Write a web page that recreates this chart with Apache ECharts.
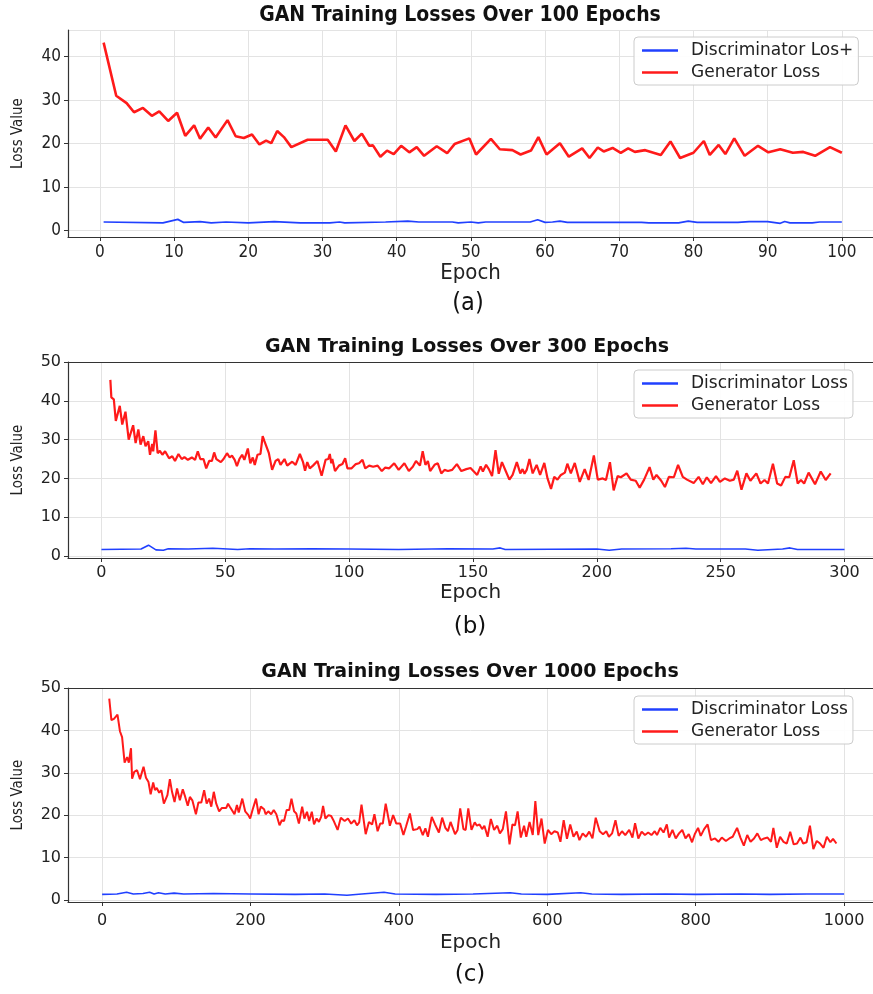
<!DOCTYPE html>
<html>
<head>
<meta charset="utf-8">
<script src="https://cdn.jsdelivr.net/npm/echarts@6/dist/echarts.min.js"></script>
<style>
  html, body { margin: 0; padding: 0; background: #fff; }
  #main { width: 873px; height: 994px; }
</style>
</head>
<body>
<div id="main"></div>
<script>
// ---- panel (a): 100 epochs ----
var genEpochA = [0.5, 2.2, 3.6, 4.6, 5.8, 7.0, 8.0, 9.2, 10.4, 11.5, 12.7, 13.5, 14.6, 15.6, 17.2, 18.3, 19.4, 20.5, 21.5, 22.4,
    23.1, 23.9, 24.8, 25.8, 28.0, 30.7, 31.8, 33.1, 34.3, 35.3, 36.3, 36.8, 37.8, 38.7, 39.6, 40.6, 41.7, 42.7, 43.7, 45.4,
    46.8, 47.8, 49.8, 50.7, 52.7, 53.9, 55.6, 56.7, 58.1, 59.1, 60.2, 62.0, 63.2, 65.0, 66.0, 67.1, 67.9, 69.1, 70.2, 71.2,
    72.1, 73.5, 75.6, 76.9, 78.2, 80.0, 81.4, 82.2, 83.4, 84.3, 85.5, 86.9, 88.7, 90.1, 91.7, 93.4, 94.8, 96.4, 98.4, 100];
var genLossA = [43.2, 31.0, 29.3, 27.2, 28.2, 26.4, 27.4, 25.2, 27.1, 21.8, 24.2, 21.1, 23.7, 21.4, 25.4, 21.7, 21.3, 22.1, 19.8, 20.7,
    20.1, 22.9, 21.5, 19.2, 20.9, 20.9, 18.2, 24.2, 20.6, 22.3, 19.5, 19.6, 17.0, 18.4, 17.6, 19.5, 18.0, 19.2, 17.2, 19.4,
    17.8, 19.9, 21.2, 17.5, 21.1, 18.7, 18.5, 17.5, 18.4, 21.5, 17.5, 20.1, 17.0, 18.9, 16.7, 19.1, 18.2, 19.0, 17.9, 18.9,
    18.1, 18.5, 17.4, 20.5, 16.7, 17.9, 20.6, 17.4, 19.7, 17.6, 21.2, 17.2, 19.5, 18.0, 18.7, 17.9, 18.1, 17.2, 19.2, 17.9];
var discEpochA = [0.5, 8.5, 10.5, 11.3, 13.5, 15, 17, 20, 23.5, 27, 31, 32.3, 33, 38.5, 41.5, 43, 47.5, 48.3, 50, 51,
    52, 58, 59, 60, 61, 62, 63, 73, 74, 78, 79.3, 80.5, 86, 87.5, 90, 91.7, 92.3, 93, 96, 97, 100];
var discLossA = [2.0, 1.8, 2.6, 1.9, 2.1, 1.8, 2.0, 1.8, 2.1, 1.8, 1.8, 2.0, 1.8, 2.0, 2.2, 2.0, 2.0, 1.8, 2.0, 1.8,
    2.0, 2.0, 2.5, 1.9, 2.0, 2.2, 1.9, 1.9, 1.8, 1.8, 2.2, 1.9, 1.9, 2.1, 2.1, 1.7, 2.1, 1.8, 1.8, 2.0, 2.0];

// ---- panel (b): 300 epochs ----
var genEpochB = [3.6, 4, 5, 5.8, 7.4, 8.4, 9.7, 11, 12.8, 13.8, 14.9, 15.8, 16.9, 17.8, 18.9, 19.6, 20.5, 20.9, 21.8, 22.7,
    23.6, 24.6, 25.7, 27.3, 28.6, 29.7, 31.1, 32.4, 33.5, 34.9, 36.5, 37.8, 38.9, 39.9, 41.2, 42.3, 43.5, 44.6, 45.5, 46.4,
    47, 48.2, 49.3, 50.7, 51.8, 52.7, 53.8, 54.7, 55.7, 56.8, 57.7, 59.1, 60.1, 61.1, 61.9, 63, 64.2, 65.1, 65.8, 66.6,
    67.6, 68.9, 70.3, 71.4, 72.3, 73.9, 75, 76.1, 77, 78.4, 80.1, 81.4, 82.2, 83.1, 84.1, 85.4, 87.2, 88.9, 90.5, 91.6,
    92.2, 92.8, 93.2, 94.3, 95.9, 97.3, 98.4, 99.3, 101, 102.7, 104, 105.4, 106.5, 108.1, 109.7, 111.5, 113.2, 114.6, 116.2, 118.2,
    120, 122.3, 124.1, 125.7, 127, 128.6, 129.7, 130.8, 131.8, 132.7, 134.5, 135.8, 137.2, 138.5, 139.9, 141.6, 143.5, 145.3, 147.3,
    149, 151.7, 153.1, 154, 155.3, 156.4, 157.7, 159.1, 160.4, 161.7, 163.3, 164.7, 166, 167.7, 169.1, 170, 170.8, 171.7, 172.8, 174.1,
    175.7, 177.1, 178.8, 180.1, 181.5, 182.8, 184.1, 185.5, 187.1, 188.1, 189.5, 191.1, 193.1, 195.1, 196.7, 198.8, 200.4, 202.4, 203.7, 205.3,
    206.8, 208.4, 209.7, 212, 213.7, 215.7, 217.3, 219.1, 221.3, 222.8, 224.1, 226, 227.5, 229.1, 231.1, 232.8, 234.7, 236.4, 239.1, 241.1,
    242.8, 244.4, 246.1, 248.1, 249.7, 251.7, 253.7, 255.3, 256.7, 258.4, 260.4, 262, 264.4, 266.1, 267.7, 269.1, 271.1, 272.8, 274.4, 276.1,
    277.7, 279.5, 281.1, 282.4, 283.7, 285.5, 288.1, 290.4, 292.4, 294.4];
var genLossB = [45.4, 40.9, 40.4, 34.8, 38.7, 33.9, 37.2, 30.0, 33.7, 29.1, 32.6, 28.7, 30.9, 28.3, 29.6, 26.1, 28.9, 27.0, 32.4, 26.5,
    27.1, 26.1, 27.0, 25.2, 25.7, 24.5, 26.3, 25.0, 25.5, 24.8, 25.4, 24.8, 27.0, 25.0, 25.0, 22.6, 24.5, 24.5, 26.7, 25.0,
    25.4, 24.2, 25.0, 26.5, 25.4, 25.9, 24.8, 23.2, 25.0, 26.1, 24.8, 27.7, 23.9, 25.4, 23.5, 26.1, 26.3, 30.9, 29.6, 29.6,
    26.5, 22.2, 24.5, 25.0, 23.5, 25.0, 23.3, 23.9, 24.3, 23.5, 26.3, 24.2, 22.0, 24.2, 22.6, 23.3, 24.5, 20.7, 24.8, 25.0,
    26.3, 23.9, 25.0, 21.9, 23.3, 23.7, 25.2, 22.6, 22.6, 23.7, 23.9, 24.8, 22.6, 23.3, 23.0, 23.3, 21.9, 22.8, 22.6, 23.9,
    22.2, 23.9, 21.9, 23.0, 24.5, 23.3, 27.0, 23.5, 24.5, 21.9, 23.5, 23.9, 21.3, 22.2, 21.9, 22.2, 23.7, 21.9, 22.4,
    22.7, 20.9, 23.1, 21.8, 23.5, 22.4, 20.6, 27.3, 21.2, 24.2, 21.8, 19.7, 20.9, 24.2, 21.3, 22.4, 21.2, 22.2, 25.0, 21.3,
    23.5, 20.9, 24.0, 20.0, 17.3, 20.4, 19.7, 20.9, 21.5, 23.8, 21.3, 24.0, 19.1, 22.4, 19.6, 25.9, 19.7, 20.0, 19.6, 24.2,
    16.9, 20.6, 20.3, 21.3, 19.7, 19.4, 17.6, 19.7, 22.9, 19.7, 20.9, 19.4, 17.8, 20.4, 20.3, 23.5, 20.4, 19.7, 18.8, 20.4,
    18.5, 20.3, 18.8, 20.6, 19.1, 20.0, 19.4, 19.7, 22.0, 17.1, 21.3, 19.4, 21.3, 18.7, 19.6, 18.7, 23.8, 18.7, 18.2, 20.4,
    20.3, 24.7, 18.7, 19.6, 18.7, 21.5, 18.5, 21.8, 19.6, 21.3];
var discEpochB = [0, 16, 19, 22, 25, 27, 35, 45, 55, 60, 70, 85, 100, 120, 140, 158, 161, 163, 200, 205,
    210, 230, 236, 240, 260, 265, 275, 278, 281, 300];
var discLossB = [1.7, 1.8, 2.8, 1.6, 1.5, 1.9, 1.8, 2.0, 1.7, 1.9, 1.8, 1.9, 1.8, 1.7, 1.9, 1.8, 2.1, 1.7, 1.8, 1.5,
    1.8, 1.9, 2.0, 1.8, 1.8, 1.5, 1.8, 2.1, 1.7, 1.7];

// ---- panel (c): 1000 epochs ----
var genEpochC = [9.6, 12.5, 15.9, 20.7, 24, 26.9, 30.3, 33.7, 36, 38.9, 40.4, 43.3, 47.1, 51, 55.8, 59.1, 62.5, 65.4, 68.8, 71.2,
    73.6, 76.9, 79.8, 83.2, 88, 91.3, 94.2, 97.6, 101, 104.8, 108.7, 112, 115.4, 118.3, 121.6, 126.4, 129.8, 133.7, 137.5, 140.9,
    144.2, 147.1, 150.5, 153.8, 157.7, 161.5, 167.3, 169.7, 172.1, 174.5, 178.4, 181.7, 184.1, 188.9, 192.8, 197.1, 199.5, 203, 207.4, 210.9,
    213.9, 218.3, 220.4, 223.9, 227.8, 231.3, 234.8, 239.1, 242.2, 245.2, 248.7, 252.2, 255.2, 258.7, 261.7, 265.2, 269.6, 272.6, 276.1, 279.1,
    282.6, 285.6, 289.1, 292.2, 295.2, 297.8, 300.9, 305.2, 308.7, 311.7, 317.4, 321.7, 326.9, 331.3, 335.7, 340, 343.5, 346.5, 349.6, 355.2,
    359.6, 363.9, 367, 371.3, 374.8, 378.3, 382.2, 387.8, 392.2, 396.5, 401.7, 406.1, 409.6, 414.8, 419.1, 424.8, 427.8, 432.2, 435.7, 439.1,
    444.3, 448.7, 453.9, 458.3, 462.6, 466.1, 469.6, 475.7, 479.1, 482.6, 487, 490,
    493.5, 497.8, 502.2, 505.2, 508.7, 512.2, 515.2, 519.6, 523.9, 528.3, 532.6, 536.1, 540, 544.3, 549.1, 553, 556.5, 560, 564.3, 568.7,
    571.7, 576.1, 580.4, 583.9, 587.8, 592.2, 596.5, 600.9, 605.3, 609.7, 614.1, 617.7, 622.1, 626.5, 630.9, 635.3, 639.7, 643.3, 647.7, 652.1,
    656.5, 660.9, 665.3, 670.6, 675.1, 679.5, 683, 687.4, 691.9, 696.2, 700.7, 705.1, 710.4, 714.8, 718.3, 722.7, 727.2, 731.6, 736, 740.4,
    744.8, 747.9, 752.3, 756.7, 761.1, 764.2, 768.7, 773.1, 777.5, 781.9, 786.3, 790.7, 795.1, 798.7, 803.2, 806.8, 811.4, 816.1, 820.6, 826.1,
    830.7, 835.2, 840.7, 845.3, 849.9, 855.8, 860.3, 864.9, 869.5, 874, 878.6, 883.1, 887.8, 892.4, 896.9, 901.5, 904.7, 909.3, 913.8, 918.4,
    922.8, 927.4, 932.1, 936.6, 941.2, 944.9, 949.5, 954, 958.6, 963.2, 967.7, 972.3, 976.8, 981.5, 985.1, 989.7];
var genLossC = [47.5, 42.4, 42.7, 43.7, 39.8, 38.4, 32.4, 33.7, 32.4, 35.8, 28.6, 30.2, 30.6, 28.5, 31.4, 28.8, 27.8, 24.9, 27.7, 25.9,
    26.4, 25.3, 25.9, 22.7, 24.7, 28.5, 25.5, 23.1, 26.3, 23.5, 26.1, 24.3, 22.2, 24.3, 23.5, 20.2, 23.0, 23.0, 25.9, 22.7,
    23.9, 22.0, 25.5, 22.7, 20.9, 21.7, 21.7, 22.7, 22.0, 22.2, 20.2, 22.4, 20.6, 23.9, 20.9, 20.0, 19.2, 21.4, 23.9, 20.2,
    22.0, 21.4, 20.2, 20.9, 20.2, 21.2, 20.2, 17.6, 18.8, 18.6, 21.2, 21.2, 23.9, 20.9, 20.4, 18.0, 22.0, 19.2, 20.8, 18.6,
    20.8, 17.8, 19.2, 18.4, 19.6, 22.2, 19.2, 20.0, 19.8, 18.8, 16.5, 19.4, 18.6, 19.2, 18.0, 18.8, 17.6, 18.3, 22.5, 15.5,
    18.4, 17.8, 20.2, 16.2, 18.0, 18.0, 22.7, 17.5, 20.0, 18.0, 18.0, 15.3, 17.3, 20.4, 16.5, 16.7, 17.3, 15.3, 16.9, 14.9,
    19.6, 17.8, 15.9, 19.4, 17.0, 16.2, 18.4, 15.5, 16.5, 21.6, 16.7, 16.5,
    21.6, 16.5, 18.3, 17.5, 17.8, 16.7, 17.5, 14.9, 19.1, 16.5, 17.5, 15.7, 16.7, 20.9, 13.1, 17.8, 17.6, 20.9, 14.7, 17.5,
    14.9, 18.4, 15.3, 23.3, 15.3, 19.2, 13.3, 16.5, 15.5, 16.2, 15.9, 13.7, 18.8, 14.4, 17.8, 14.9, 16.1, 14.1, 15.7, 14.9,
    16.1, 14.5, 19.4, 16.2, 15.5, 16.2, 14.9, 15.7, 18.8, 15.1, 16.2, 15.3, 16.5, 14.7, 18.1, 14.5, 16.1, 15.3, 15.9, 15.3,
    16.2, 15.3, 17.0, 15.9, 17.8, 14.7, 16.5, 14.5, 15.7, 16.5, 14.5, 15.5, 13.6, 15.5, 17.0, 15.1, 16.7, 17.8, 14.1, 14.5,
    13.7, 14.7, 13.9, 14.5, 14.9, 17.0, 14.7, 12.8, 15.3, 13.7, 14.5, 15.7, 14.1, 14.5, 14.7, 13.7, 17.0, 12.3, 14.9, 13.7,
    13.3, 16.1, 13.1, 13.3, 14.7, 13.3, 13.6, 17.5, 12.0, 13.9, 13.3, 12.3, 14.9, 13.6, 14.4, 13.3];
var discEpochC = [0, 20, 33, 42, 55, 64, 70, 76, 85, 97, 110, 150, 200, 260, 300, 330, 350, 380, 395, 450,
    500, 550, 565, 600, 645, 660, 700, 760, 800, 860, 900, 950, 1000];
var discLossC = [1.3, 1.4, 1.8, 1.4, 1.5, 1.8, 1.4, 1.7, 1.4, 1.6, 1.4, 1.5, 1.4, 1.3, 1.4, 1.1, 1.4, 1.8, 1.4, 1.3,
    1.4, 1.7, 1.4, 1.3, 1.7, 1.4, 1.3, 1.4, 1.3, 1.4, 1.3, 1.4, 1.4];

var blue = '#2040ff';
var red = '#ff1a1a';
var normalFont = 'DejaVu Sans';
var narrowFont = 'DejaVu Sans Condensed';

function pairs(xs, ys) {
    return xs.map(function (x, i) { return [x, ys[i]]; });
}

var chart = echarts.init(document.getElementById('main'));

var grids = [
    { left: 68, top: 30, width: 805, height: 207 },
    { left: 68, top: 362, width: 805, height: 196 },
    { left: 68, top: 688, width: 805, height: 214 }
];
var xRanges = [[-4.3, 104.2, 10], [-13.5, 311.5, 6], [-46, 1039, 5]];
var yRanges = [[-1.45, 46.1], [-0.5, 50], [-0.5, 50]];
var fonts = [narrowFont, normalFont, normalFont];
var nameGaps = [23, 25, 31];
var labelMargins = [7, 7, 11];

var xAxes = grids.map(function (g, i) {
    return {
        type: 'value', gridIndex: i,
        min: xRanges[i][0], max: xRanges[i][1], splitNumber: xRanges[i][2],
        name: 'Epoch', nameLocation: 'middle', nameGap: nameGaps[i],
        nameTextStyle: { fontFamily: fonts[i], fontSize: i === 0 ? 22 : 20, color: '#222' },
        axisLine: { show: true, onZero: false, lineStyle: { color: '#333', width: 1.2 } },
        axisTick: { show: true, length: 4, lineStyle: { color: '#333' } },
        axisLabel: { fontFamily: fonts[i], fontSize: i === 0 ? 17 : 16, color: '#222', margin: labelMargins[i],
            showMinLabel: false, showMaxLabel: false,
            formatter: function (v) { return String(v); } },
        splitLine: { show: true, lineStyle: { color: '#e3e3e3', width: 1 } }
    };
});
// dark top spine for (b) and (c)
[1, 2].forEach(function (i) {
    xAxes.push({
        type: 'value', gridIndex: i, position: 'top',
        min: xRanges[i][0], max: xRanges[i][1],
        axisLine: { show: true, onZero: false, lineStyle: { color: '#333', width: 1.2 } },
        axisTick: { show: false }, axisLabel: { show: false }, splitLine: { show: false }
    });
});

var yAxes = grids.map(function (g, i) {
    return {
        type: 'value', gridIndex: i,
        min: yRanges[i][0], max: yRanges[i][1], splitNumber: 5,
        name: 'Loss Value', nameLocation: 'middle', nameGap: 42, nameRotate: 90,
        nameTextStyle: { fontFamily: narrowFont, fontSize: 15, color: '#222' },
        axisLine: { show: true, onZero: false, lineStyle: { color: '#333', width: 1.2 } },
        axisTick: { show: true, length: 4, lineStyle: { color: '#333' } },
        axisLabel: { fontFamily: fonts[i], fontSize: i === 0 ? 17 : 16, color: '#222', margin: 7,
            showMinLabel: false, showMaxLabel: i !== 0 },
        splitLine: { show: true, lineStyle: { color: '#e3e3e3', width: 1 } }
    };
});

function legendFor(top, names) {
    return {
        orient: 'vertical', left: 634, top: top, data: names,
        icon: 'rect', itemWidth: 36, itemHeight: 2.5, itemGap: 5,
        padding: [5, 5, 4, 8],
        borderColor: '#cccccc', borderWidth: 1, borderRadius: 4,
        backgroundColor: 'rgba(255,255,255,0.9)',
        textStyle: { fontFamily: normalFont, fontSize: 17, color: '#222', padding: [0, 0, 0, 8] }
    };
}

function line(name, data, idx, color, width) {
    return {
        name: name, type: 'line', data: data,
        xAxisIndex: idx, yAxisIndex: idx,
        symbol: 'none', showSymbol: false,
        lineStyle: { color: color, width: width },
        itemStyle: { color: color },
        animation: false
    };
}

function text(x, y, str, size, family, weight) {
    return {
        type: 'text', x: x, y: y,
        style: { text: str, fontSize: size, fontFamily: family, fontWeight: weight || 'normal',
            fill: '#111', textAlign: 'center', textVerticalAlign: 'middle' }
    };
}

var option = {
    backgroundColor: '#fff',
    grid: grids,
    xAxis: xAxes,
    yAxis: yAxes,
    legend: [
        legendFor(37, ['Discriminator Los+', 'Generator Loss']),
        legendFor(370, ['Discriminator Loss', 'Generator Loss']),
        legendFor(696, ['Discriminator Loss', 'Generator Loss'])
    ],
    graphic: [
        text(460, 16, 'GAN Training Losses Over 100 Epochs', 21, narrowFont, 'bold'),
        text(467, 347, 'GAN Training Losses Over 300 Epochs', 19, normalFont, 'bold'),
        text(470, 672, 'GAN Training Losses Over 1000 Epochs', 19, normalFont, 'bold'),
        text(468, 303, '(a)', 25, narrowFont),
        text(470, 627, '(b)', 23, normalFont),
        text(470, 975, '(c)', 23, normalFont)
    ],
    series: [
        line('Discriminator Los+', pairs(discEpochA, discLossA), 0, blue, 1.7),
        line('Generator Loss', pairs(genEpochA, genLossA), 0, red, 2.6),
        line('Discriminator Loss', pairs(discEpochB, discLossB), 1, blue, 1.6),
        line('Generator Loss', pairs(genEpochB, genLossB), 1, red, 2.2),
        line('Discriminator Loss', pairs(discEpochC, discLossC), 2, blue, 1.6),
        line('Generator Loss', pairs(genEpochC, genLossC), 2, red, 2.0)
    ]
};
chart.setOption(option);
</script>
</body>
</html>
